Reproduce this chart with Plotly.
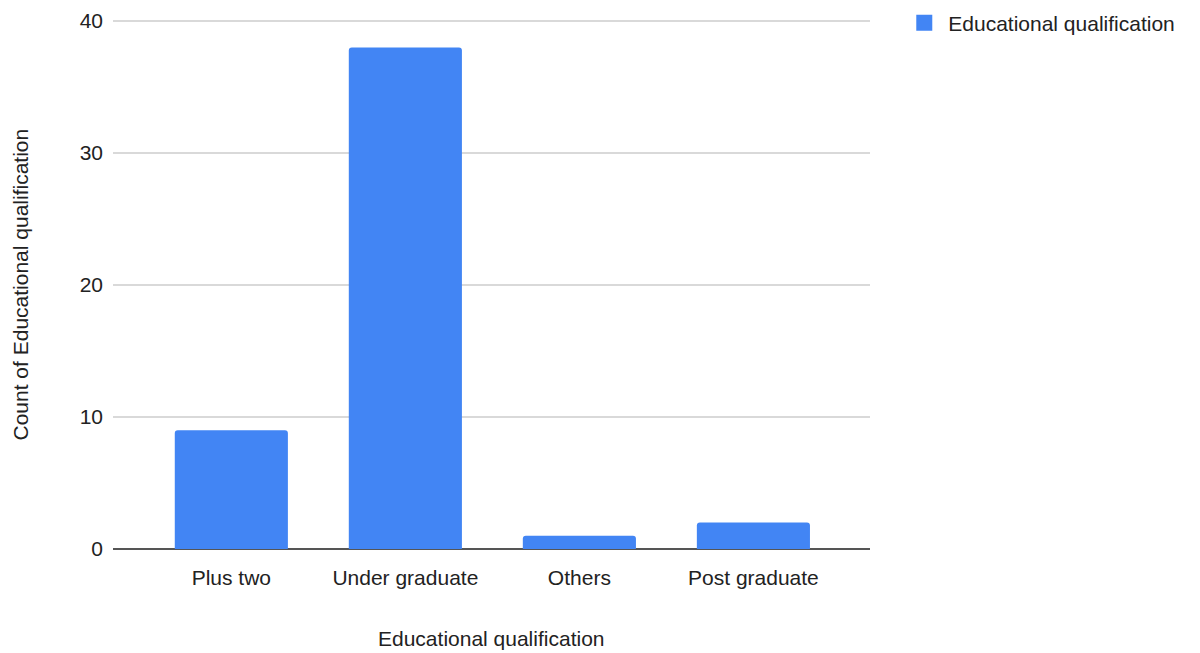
import plotly.graph_objects as go

# Survey responses grouped by highest educational qualification
categories = ["Plus two", "Under graduate", "Others", "Post graduate"]
counts = [9, 38, 1, 2]
series_name = "Educational qualification"
y_ticks = [0, 10, 20, 30, 40]

FONT = "Liberation Sans, Arial, sans-serif"
TEXT = "#222222"
BLUE = "#4285F4"
SIZE = 21

fig = go.Figure()
fig.add_trace(
    go.Bar(
        x=categories,
        y=counts,
        name=series_name,
        marker=dict(color=BLUE, cornerradius=3, line=dict(width=0)),
        width=0.65,
        showlegend=False,
    )
)
# Legend entry with a larger square swatch
fig.add_trace(
    go.Scatter(
        x=[None], y=[None], mode="markers", name=series_name,
        marker=dict(symbol="square", size=20, color=BLUE),
        showlegend=True,
    )
)

fig.update_layout(
    width=1200,
    height=653,
    margin=dict(l=113, r=330, t=20, b=104, autoexpand=False),
    paper_bgcolor="white",
    plot_bgcolor="white",
    font=dict(family=FONT, size=SIZE, color=TEXT),
    showlegend=True,
    legend=dict(
        x=1.04, y=1.033, xanchor="left", yanchor="top",
        font=dict(family=FONT, size=SIZE, color=TEXT),
        itemwidth=38,
    ),
    xaxis=dict(
        range=[-0.68, 3.67],
        showgrid=False,
        showline=False,
        ticks="",
        automargin=False,
        ticklabelstandoff=14,
        tickfont=dict(family=FONT, size=SIZE, color=TEXT),
    ),
    yaxis=dict(
        range=[0, 40.08],
        tickvals=y_ticks,
        showgrid=True,
        gridcolor="#d9d9d9",
        gridwidth=1.5,
        zeroline=True,
        zerolinecolor="#555555",
        zerolinewidth=1.5,
        showline=False,
        ticks="",
        automargin=False,
        ticklabelstandoff=9,
        tickfont=dict(family=FONT, size=SIZE, color=TEXT),
    ),
    annotations=[
        dict(text="Educational qualification", xref="paper", yref="paper",
             x=0.5, y=-89 / 529, xanchor="center", yanchor="middle",
             showarrow=False, font=dict(family=FONT, size=SIZE, color=TEXT)),
        dict(text="Count of Educational qualification", xref="paper", yref="paper",
             x=-93 / 757, y=0.5, xanchor="center", yanchor="middle", textangle=-90,
             showarrow=False, font=dict(family=FONT, size=SIZE, color=TEXT)),
    ],
)

fig.write_html("out.html")
